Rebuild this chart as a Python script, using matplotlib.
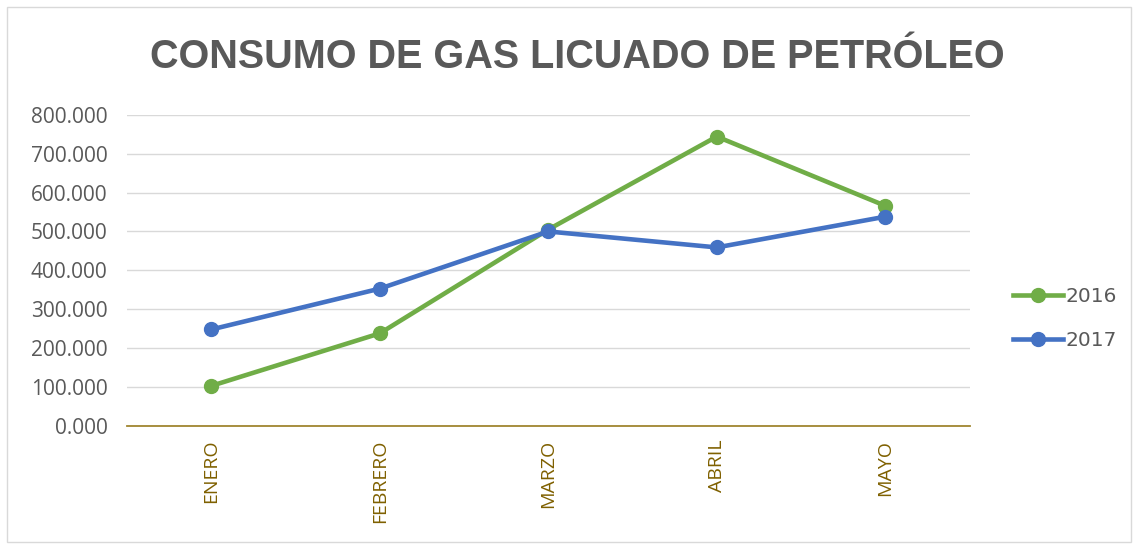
import matplotlib.pyplot as plt
from matplotlib.ticker import FuncFormatter, MultipleLocator
from matplotlib.patches import Rectangle

# data
meses = ['ENERO', 'FEBRERO', 'MARZO', 'ABRIL', 'MAYO']
consumo_2016 = [103, 238, 505, 744, 566]
consumo_2017 = [248, 353, 500, 459, 538]

fig = plt.figure(figsize=(11.38, 5.44), dpi=100)
ax = fig.add_axes([0.1116, 0.217, 0.7404, 0.572])

x = range(len(meses))
ax.plot(x, consumo_2016, color='#70AD47', lw=3.3, marker='o', ms=10, label='2016')
ax.plot(x, consumo_2017, color='#4472C4', lw=3.3, marker='o', ms=10, label='2017')

ax.set_xlim(-0.5, len(meses) - 0.5)
ax.set_ylim(0, 800)
ax.yaxis.set_major_locator(MultipleLocator(100))
ax.yaxis.set_major_formatter(FuncFormatter(lambda v, p: f'{v:.3f}'))
ax.grid(axis='y', color='#D9D9D9', lw=1)
ax.set_axisbelow(True)

for s in ['top', 'right', 'left']:
    ax.spines[s].set_visible(False)
ax.spines['bottom'].set_color('#A08630')
ax.spines['bottom'].set_linewidth(1.3)

ax.set_xticks(list(x))
ax.set_xticklabels(meses, rotation=90, color='#7F6000', fontsize=14,
                   family=['Open Sans', 'DejaVu Sans'])
for lbl in ax.get_xticklabels():
    lbl.set_verticalalignment('top')
ax.tick_params(axis='both', length=0)
ax.tick_params(axis='x', pad=10)
ax.tick_params(axis='y', pad=14)
for lbl in ax.get_yticklabels():
    lbl.set_color('#595959')
    lbl.set_fontsize(15)
    lbl.set_family(['Open Sans', 'DejaVu Sans'])

fig.text(0.507, 0.895, 'CONSUMO DE GAS LICUADO DE PETRÓLEO', ha='center', va='center',
         fontsize=28.5, fontweight='bold', color='#595959',
         family=['Liberation Sans', 'DejaVu Sans'])

leg = fig.legend(loc='center left', bbox_to_anchor=(0.874, 0.415), frameon=False,
                 fontsize=14.5, handlelength=2.5, labelspacing=1.25, handletextpad=0.1)
for t in leg.get_texts():
    t.set_color('#595959')

fig.patches.append(Rectangle((0.006, 0.003), 0.988, 0.985, transform=fig.transFigure,
                             fill=False, edgecolor='#D9D9D9', lw=1))

fig.savefig('out.png', dpi=100)
